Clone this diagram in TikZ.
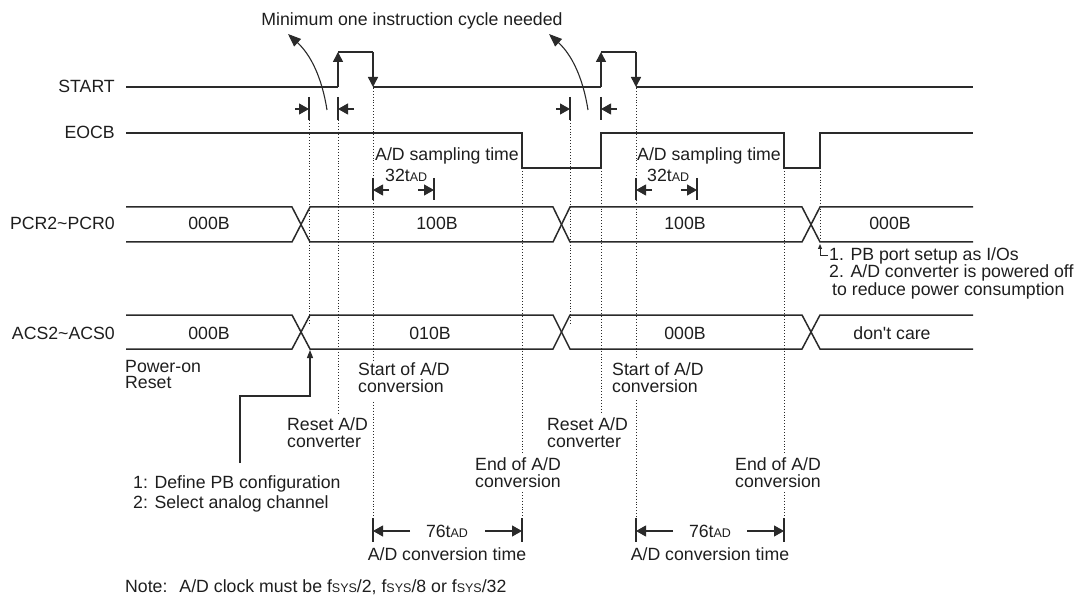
\documentclass[tikz,border=0pt]{standalone}
\usepackage{fontspec}
\setmainfont{Liberation Sans}
\usetikzlibrary{arrows.meta}
\newcommand\smtxt[1]{{\fontsize{12.5}{13}\selectfont #1}}
\definecolor{lc}{HTML}{2A2A2A}
\definecolor{tc}{HTML}{1E1E1E}
\begin{document}
\begin{tikzpicture}[x=1pt,y=-1pt,
  font=\fontsize{17.7}{18}\selectfont,
  sig/.style={draw=lc,line width=1.5pt,line join=miter},
  dotl/.style={draw=lc,dotted,line width=0.9pt},
  tick/.style={draw=lc,line width=1.1pt},
  harr/.style={draw=lc,line width=1.1pt,-{Triangle[length=10pt,width=11pt]}},
  parr/.style={draw=lc,line width=1.5pt,-{Triangle[length=10pt,width=10pt]}},
  carr/.style={draw=lc,line width=1.1pt,-{Triangle[length=13pt,width=10pt]}},
  thinarr/.style={draw=lc,line width=1.1pt,-{Triangle[length=8pt,width=6pt]}},
  tinyarr/.style={draw=lc,line width=0.9pt,-{Triangle[length=5pt,width=4pt]}},
  txt/.style={inner sep=0pt,text=tc},
  lab/.style={txt,anchor=base east},
  lw/.style={txt,anchor=base west},
  lc/.style={txt,anchor=base}]
\useasboundingbox (0,0) rectangle (1083,601);

% ---- labels on the left
\node[lab] (lstart) at (115,93) {START};
\node[lab] (leocb) at (115,139) {EOCB};
\node[lab] (lpcr) at (115,230) {PCR2\char`~PCR0};
\node[lab] (lacs) at (115,339) {ACS2\char`~ACS0};

% ---- top text
\node[lc] (tmin) at (412,26) {Minimum one instruction cycle needed};

% ---- START signal
\draw[sig] (126,87) -- (338,87);
\draw[parr] (338,87) -- (338,52);
\draw[sig] (338,52) -- (373,52);
\draw[parr] (373,52) -- (373,87);
\draw[sig] (373,87) -- (601,87);
\draw[parr] (601,87) -- (601,52);
\draw[sig] (601,52) -- (636,52);
\draw[parr] (636,52) -- (636,87);
\draw[sig] (636,87) -- (973,87);

% ---- minimum instruction cycle marks
\draw[tick] (309,97) -- (309,120);
\draw[tick] (338,97) -- (338,120);
\draw[harr] (295,109) -- (309,109);
\draw[harr] (354,109) -- (338,109);
\draw[tick] (570,97) -- (570,120);
\draw[tick] (601,97) -- (601,120);
\draw[harr] (556,109) -- (570,109);
\draw[harr] (617,109) -- (601,109);
\draw[carr] (327,110) .. controls (322,78) and (311,55) .. (288,34);
\draw[carr] (588,110) .. controls (583,78) and (572,55) .. (549,34);

% ---- EOCB signal
\draw[sig] (126,133) -- (522,133) -- (522,168) -- (601,168) -- (601,133)
  -- (784,133) -- (784,168) -- (820,168) -- (820,133) -- (973,133);

% ---- sampling time
\node[lw] (samp1) at (375,161) {A/D sampling time};
\node[lw] (t32a) at (385,182) {32t\smtxt{AD}};
\draw[tick] (373,178) -- (373,200);
\draw[tick] (434,178) -- (434,200);
\draw[harr] (389,190) -- (373,190);
\draw[harr] (418,190) -- (434,190);
\node[lw] (samp2) at (637,161) {A/D sampling time};
\node[lw] (t32b) at (647,182) {32t\smtxt{AD}};
\draw[tick] (636,178) -- (636,200);
\draw[tick] (697,178) -- (697,200);
\draw[harr] (652,190) -- (636,190);
\draw[harr] (681,190) -- (697,190);

% ---- PCR bus
\draw[sig] (126,207) -- (292,207) -- (310,242) -- (553,242) -- (570,207) -- (802,207) -- (820,242) -- (973,242);
\draw[sig] (126,242) -- (292,242) -- (310,207) -- (553,207) -- (570,242) -- (802,242) -- (820,207) -- (973,207);
\node[lc] (p1) at (209,230) {000B};
\node[lc] (p2) at (437,230) {100B};
\node[lc] (p3) at (685,230) {100B};
\node[lc] (p4) at (890,230) {000B};

% ---- ACS bus
\draw[sig] (126,315) -- (292,315) -- (310,349) -- (553,349) -- (570,315) -- (802,315) -- (820,349) -- (973,349);
\draw[sig] (126,349) -- (292,349) -- (310,315) -- (553,315) -- (570,349) -- (802,349) -- (820,315) -- (973,315);
\node[lc] (a1) at (209,339) {000B};
\node[lc] (a2) at (430,339) {010B};
\node[lc] (a3) at (685,339) {000B};
\node[lc] (a4) at (892,339) {don\textquotesingle t care};

% ---- dotted guide lines
\draw[dotl] (309,120) -- (309,325);
\draw[dotl] (338,120) -- (338,413);
\draw[dotl] (373,88) -- (373,178);
\draw[dotl] (373,200) -- (373,362);
\draw[dotl] (373,402) -- (373,518);
\draw[dotl] (522,168) -- (522,453);
\draw[dotl] (522,492) -- (522,518);
\draw[dotl] (570,120) -- (570,325);
\draw[dotl] (601,168) -- (601,412);
\draw[dotl] (636,88) -- (636,178);
\draw[dotl] (636,200) -- (636,358);
\draw[dotl] (636,400) -- (636,518);
\draw[dotl] (784,168) -- (784,453);
\draw[dotl] (784,492) -- (784,518);
\draw[dotl] (820,168) -- (820,240);

% ---- notes at PCR end
\draw[tinyarr] (828,255) -- (820,255) -- (820,244);
\node[lw] (n1) at (829,261) {1. PB port setup as I/Os};
\node[lw] (n2) at (829,278) {2. A/D converter is powered off};
\node[lw] (n3) at (832,295) {to reduce power consumption};

% ---- event labels
\node[lw] (por1) at (125,372) {Power-on};
\node[lw] (por2) at (125,388) {Reset};
\node[lw] (s1a) at (358,375) {Start of A/D};
\node[lw] (s1b) at (358,392) {conversion};
\node[lw] (s2a) at (612,375) {Start of A/D};
\node[lw] (s2b) at (612,392) {conversion};
\node[lw] (r1a) at (287,430) {Reset A/D};
\node[lw] (r1b) at (287,447) {converter};
\node[lw] (r2a) at (547,430) {Reset A/D};
\node[lw] (r2b) at (547,447) {converter};
\node[lw] (e1a) at (475,470) {End of A/D};
\node[lw] (e1b) at (475,487) {conversion};
\node[lw] (e2a) at (735,470) {End of A/D};
\node[lw] (e2b) at (735,487) {conversion};

% ---- define PB arrow
\draw[thinarr] (240,463) -- (240,396) -- (310,396) -- (310,350);
\node[lw] (d1) at (133,488) {1: Define PB configuration};
\node[lw] (d2) at (133,508) {2: Select analog channel};

% ---- conversion time
\draw[tick] (373,518) -- (373,542);
\draw[tick] (522,518) -- (522,542);
\draw[harr] (410,531) -- (373,531);
\draw[harr] (485,531) -- (522,531);
\node[lc] (c76a) at (447,537) {76t\smtxt{AD}};
\node[lc] (cta) at (447,560) {A/D conversion time};
\draw[tick] (636,518) -- (636,542);
\draw[tick] (784,518) -- (784,542);
\draw[harr] (673,531) -- (636,531);
\draw[harr] (747,531) -- (784,531);
\node[lc] (c76b) at (710,537) {76t\smtxt{AD}};
\node[lc] (ctb) at (710,560) {A/D conversion time};

% ---- note
\node[lw] (note) at (125,592) {Note:\hspace{12pt}A/D clock must be f\smtxt{SYS}/2, f\smtxt{SYS}/8 or f\smtxt{SYS}/32};
\end{tikzpicture}
\end{document}
